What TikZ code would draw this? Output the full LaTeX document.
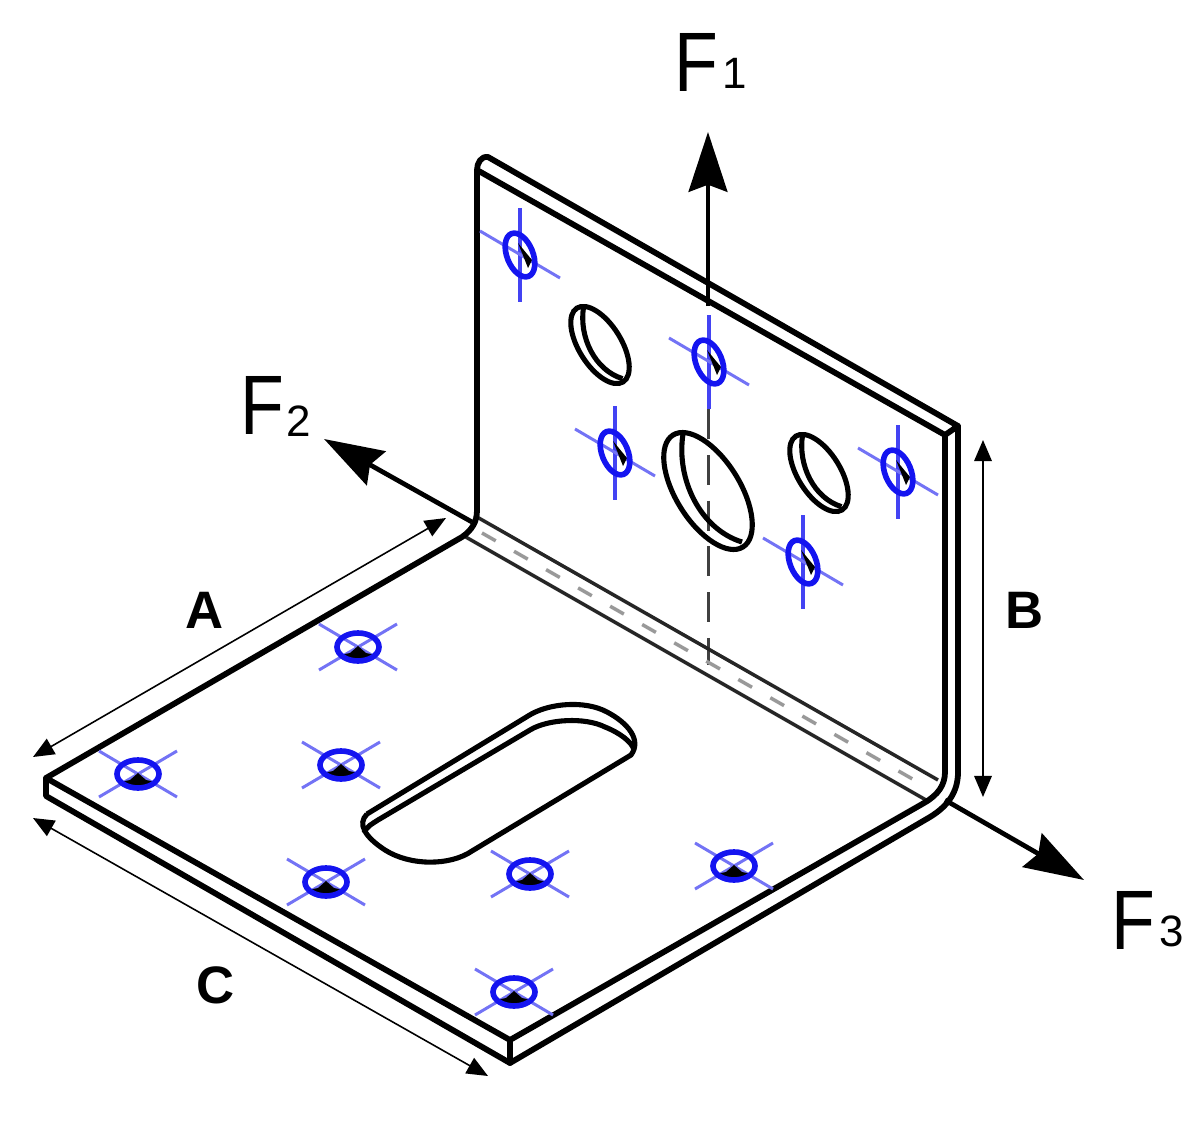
\documentclass[tikz,border=0pt]{standalone}
\usepackage{fontspec}
\setmainfont{Liberation Sans}
\usetikzlibrary{arrows.meta}
\definecolor{bluemark}{RGB}{20,20,240}
\definecolor{bluelight}{RGB}{115,115,245}
\tikzset{
  plate/.style={line width=3.3pt,black,line join=round,line cap=round},
  bendline/.style={line width=2pt,black!85},
  bendcentre/.style={line width=2pt,black!40,dash pattern=on 9pt off 12pt},
  axisdash/.style={line width=1.7pt,black!75,dash pattern=on 17pt off 9pt},
  holeline/.style={line width=2.9pt,black},
  force/.style={line width=2.7pt,black,-{Stealth[length=34pt,width=22pt,inset=4pt]}},
  dimen/.style={line width=0.9pt,black,{Stealth[length=12pt,width=10pt,inset=0pt]}-{Stealth[length=12pt,width=10pt,inset=0pt]}},
  crossline/.style={line width=1.7pt,bluelight},
  crossstrong/.style={line width=2.1pt,bluemark!80!white},
  ring/.style={line width=3.2pt,bluemark},
  bigF/.style={inner sep=0pt,xscale=0.85,font=\fontsize{48}{48}\selectfont},
  bigsub/.style={inner sep=0pt,font=\fontsize{25}{25}\selectfont},
  dimlabel/.style={inner sep=0pt,font=\fontsize{30}{30}\selectfont\bfseries},
}
\newcommand{\boltV}[2]{%
  \begin{scope}[shift={(#1,#2)}]
    \draw[crossstrong] (0,-47) -- (0,47);
    \draw[crossline] (-40,-24) -- (40,23);
    \fill[black] (-2,-12) -- (12,5) -- (8,13) -- cycle;
    \draw[ring,rotate=22] (0,0) ellipse [x radius=13,y radius=23];
  \end{scope}}
\newcommand{\boltH}[2]{%
  \begin{scope}[shift={(#1,#2)}]
    \draw[crossline] (-39,-23) -- (39,23);
    \draw[crossline] (-39,23) -- (39,-23);
    \fill[black] (-18,8) -- (-8,6) -- (0,-1) -- (8,6) -- (18,8) -- (8,13) -- (-8,13) -- cycle;
    \draw[ring] (0,0) ellipse [x radius=21,y radius=14];
  \end{scope}}
\newcommand{\holeV}[3]{%
  \begin{scope}[shift={(#1,#2)},scale=#3]
    \draw[holeline,rotate=32] (0,0) ellipse [x radius=32,y radius=66];
    \draw[holeline] (-25,-57) .. controls (-32,-12) and (-8,38) .. (34,51);
  \end{scope}}
\begin{document}
\begin{tikzpicture}[x=0.02cm,y=-0.02cm]
\useasboundingbox (0,0) rectangle (1200,1122);
% named points of the bracket
\coordinate (backTL) at (488,157);
\coordinate (frontTL) at (477,170);
\coordinate (backTR) at (958,426);
\coordinate (frontTR) at (945,435);
\coordinate (leftA) at (46,778);
\coordinate (leftB) at (46,796);
\coordinate (frontA) at (510,1040);
\coordinate (frontB) at (510,1063);
% axis through the plate
\coordinate (axisTop) at (708,318);
\coordinate (axisEnd) at (708,665);
\draw[axisdash] (axisTop) -- (axisEnd);
% bend
\draw[bendline] (477,517) -- (938,780);
\draw[bendline] (464,536) -- (926,800);
\draw[bendcentre] (482,533) -- (930,789);
% force F2 and F3
\coordinate (f2start) at (472,522);
\coordinate (f2tip) at (324,439);
\coordinate (f3start) at (945,800);
\coordinate (f3tip) at (1084,880);
\draw[force] (f2start) -- (f2tip);
\draw[force] (f3start) -- (f3tip);
% force F1
\coordinate (f1start) at (708,306);
\coordinate (f1tip) at (708,132);
\draw[force] (f1start) -- (f1tip);
% plate outline
\draw[plate] (frontTR) -- (frontTL) -- (477,510) .. controls (477,522) and (472,530) .. (462,537) -- (leftA) -- (frontA) -- (frontB);
\draw[plate] (frontTL) .. controls (477,163) and (481,156) .. (backTL) -- (backTR) -- (frontTR);
\draw[plate] (frontTR) -- (945,772) .. controls (945,785) and (938,795) .. (924,803) -- (frontA);
\draw[plate] (backTR) -- (958,772) .. controls (958,792) and (948,806) .. (930,817) -- (frontB) -- (leftB) -- (leftA);
% holes of the upright plate
\holeV{708}{491}{1}
\holeV{600}{345}{0.66}
\holeV{819}{473}{0.66}
% slot
\draw[holeline] (367,814) -- (528,716) .. controls (548,703) and (585,700) .. (607,712) .. controls (628,723) and (642,740) .. (631,755) -- (472,851) .. controls (450,866) and (410,866) .. (385,850) .. controls (365,837) and (357,824) .. (367,814);
\draw[holeline] (364,833) .. controls (367,826) and (372,824) .. (378,820) -- (530,730) .. controls (548,719) and (585,717) .. (605,727) .. controls (620,733) and (632,742) .. (634,750);
% bolts
\foreach \px/\py in {520/255,709/362,615/453,898/472,803/562}{\boltV{\px}{\py}}
\foreach \px/\py in {358/647,138/774,341/765,326/882,530/874,734/866,514/992}{\boltH{\px}{\py}}
% dimension arrows
\coordinate (dimAa) at (446,518);
\coordinate (dimAb) at (33,757);
\coordinate (dimBa) at (983,440);
\coordinate (dimBb) at (983,797);
\coordinate (dimCa) at (33,818);
\coordinate (dimCb) at (488,1076);
\draw[dimen] (dimAa) -- (dimAb);
\draw[dimen] (dimBa) -- (dimBb);
\draw[dimen] (dimCa) -- (dimCb);
% labels
\node[dimlabel] (labA) at (205,610) {A};
\node[dimlabel] (labB) at (1025,610) {B};
\node[dimlabel] (labC) at (216,985) {C};
\node[bigF] (f1F) at (696,62) {F};
\node[bigsub] (f1n) at (735,73) {1};
\node[bigF] (f2F) at (262,405) {F};
\node[bigsub] (f2n) at (299,421) {2};
\node[bigF] (f3F) at (1133,920) {F};
\node[bigsub] (f3n) at (1172,931) {3};
\end{tikzpicture}
\end{document}
